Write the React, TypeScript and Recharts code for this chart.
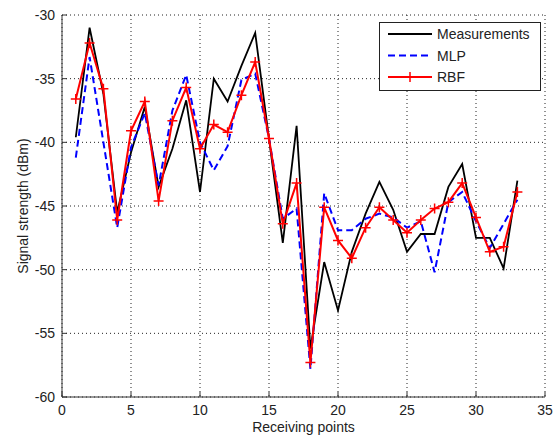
import React from 'react';
import {
  LineChart,
  Line,
  XAxis,
  YAxis,
  CartesianGrid,
} from 'recharts';

// receiving point index, 1..33
const points = [
  1, 2, 3, 4, 5, 6, 7, 8, 9, 10, 11, 12, 13, 14, 15, 16, 17,
  18, 19, 20, 21, 22, 23, 24, 25, 26, 27, 28, 29, 30, 31, 32, 33,
];

const measurements = [
  -39.6, -31.0, -36.2, -45.5, -40.8, -37.2, -43.5, -40.5, -36.7, -43.9, -35.0,
  -36.8, -34.0, -31.4, -39.7, -47.9, -38.7, -56.2, -49.4, -53.2, -48.6, -45.6,
  -43.1, -45.3, -48.6, -47.2, -47.2, -43.5, -41.7, -47.5, -47.5, -49.9, -43.0,
];

const mlp = [
  -41.2, -33.3, -40.0, -46.7, -40.4, -37.7, -43.4, -37.5, -34.7, -40.0, -42.2,
  -40.3, -35.1, -34.6, -39.7, -46.0, -45.2, -57.8, -44.0, -46.9, -46.9, -46.0,
  -45.6, -45.9, -46.7, -46.2, -50.2, -44.7, -43.9, -46.2, -48.3, -46.4, -44.5,
];

const rbf = [
  -36.6, -32.2, -35.8, -46.1, -39.1, -36.8, -44.6, -38.3, -35.7, -40.5, -38.6,
  -39.2, -36.3, -33.7, -39.7, -46.4, -43.2, -57.3, -45.1, -47.7, -49.1, -46.7,
  -45.1, -46.1, -47.1, -46.1, -45.2, -44.7, -43.2, -45.9, -48.6, -48.2, -43.9,
];

const xTicks = [0, 5, 10, 15, 20, 25, 30, 35];
const yTicks = [-60, -55, -50, -45, -40, -35, -30];

const FONT = "'Liberation Sans', Arial, sans-serif";
const AXIS = '#333333';

const chartData = points.map((p, i) => ({
  point: p,
  Measurements: measurements[i],
  MLP: mlp[i],
  RBF: rbf[i],
}));

function PlusDot(props: { cx?: number; cy?: number; index?: number }) {
  const { cx, cy } = props;
  if (cx == null || cy == null) return null;
  return (
    <path
      d={`M${cx - 5},${cy}h10M${cx},${cy - 5}v10`}
      stroke="#ff0000"
      strokeWidth={1.5}
      fill="none"
    />
  );
}

function YTitle({ viewBox }: { viewBox?: { x: number; y: number; width: number; height: number } }) {
  if (!viewBox) return null;
  const x = 28;
  const y = viewBox.y + viewBox.height / 2;
  return (
    <text
      x={x}
      y={y}
      transform={`rotate(-90 ${x} ${y})`}
      textAnchor="middle"
      fontSize={14}
      fontFamily={FONT}
      fill="#222"
    >
      Signal strength (dBm)
    </text>
  );
}

function LegendBox() {
  const rows = [
    { label: 'Measurements', color: '#000000', dash: undefined as string | undefined, plus: false },
    { label: 'MLP', color: '#0000ff', dash: '7 4', plus: false },
    { label: 'RBF', color: '#ff0000', dash: undefined, plus: true },
  ];
  return (
    <svg width={162} height={69} style={{ position: 'absolute', left: 379, top: 22 }}>
      <rect x={0.5} y={0.5} width={161} height={68} fill="#fff" stroke="#222" strokeWidth={1} />
      {rows.map((r, i) => {
        const y = 12 + i * 21.5;
        return (
          <g key={r.label}>
            <line x1={9} x2={53} y1={y} y2={y} stroke={r.color} strokeWidth={2} strokeDasharray={r.dash} />
            {r.plus && <path d={`M26,${y}h10M31,${y - 5}v10`} stroke={r.color} strokeWidth={1.5} />}
            <text x={58} y={y + 5} fontSize={14} fontFamily={FONT} fill="#222">
              {r.label}
            </text>
          </g>
        );
      })}
    </svg>
  );
}

export default function App() {
  return (
    <div style={{ position: 'absolute', left: 0, top: 0, width: 556, height: 438, background: '#fff' }}>
      <LineChart
        width={556}
        height={438}
        data={chartData}
        margin={{ top: 15, right: 11, left: 0, bottom: 0 }}
      >
        <CartesianGrid strokeDasharray="1 3" stroke="#222" />
        <XAxis
          dataKey="point"
          type="number"
          domain={[0, 35]}
          ticks={xTicks}
          height={41}
          tickSize={-5}
          tickMargin={13}
          axisLine={{ stroke: AXIS }}
          tickLine={{ stroke: AXIS }}
          tick={{ fill: '#222', fontSize: 14, fontFamily: FONT }}
          label={{
            value: 'Receiving points',
            position: 'insideBottom',
            offset: 6,
            fill: '#222',
            fontSize: 14,
            fontFamily: FONT,
          }}
        />
        <XAxis
          xAxisId="top"
          orientation="top"
          dataKey="point"
          type="number"
          domain={[0, 35]}
          ticks={xTicks}
          height={0}
          tickSize={-5}
          tick={false}
          axisLine={{ stroke: AXIS }}
          tickLine={{ stroke: AXIS }}
        />
        <YAxis
          type="number"
          domain={[-60, -30]}
          ticks={yTicks}
          width={62}
          tickSize={-5}
          tickMargin={12}
          axisLine={{ stroke: AXIS }}
          tickLine={{ stroke: AXIS }}
          tick={{ fill: '#222', fontSize: 14, fontFamily: FONT }}
          label={<YTitle />}
        />
        <YAxis
          yAxisId="right"
          orientation="right"
          type="number"
          domain={[-60, -30]}
          ticks={yTicks}
          width={0}
          tickSize={-5}
          tick={false}
          axisLine={{ stroke: AXIS }}
          tickLine={{ stroke: AXIS }}
        />
        <Line
          dataKey="Measurements"
          stroke="#000000"
          strokeWidth={1.8}
          dot={false}
          isAnimationActive={false}
        />
        <Line
          dataKey="MLP"
          stroke="#0000ff"
          strokeWidth={2}
          strokeDasharray="7 4"
          dot={false}
          isAnimationActive={false}
        />
        <Line
          dataKey="RBF"
          stroke="#ff0000"
          strokeWidth={2}
          dot={<PlusDot />}
          isAnimationActive={false}
        />
      </LineChart>
      <LegendBox />
    </div>
  );
}
